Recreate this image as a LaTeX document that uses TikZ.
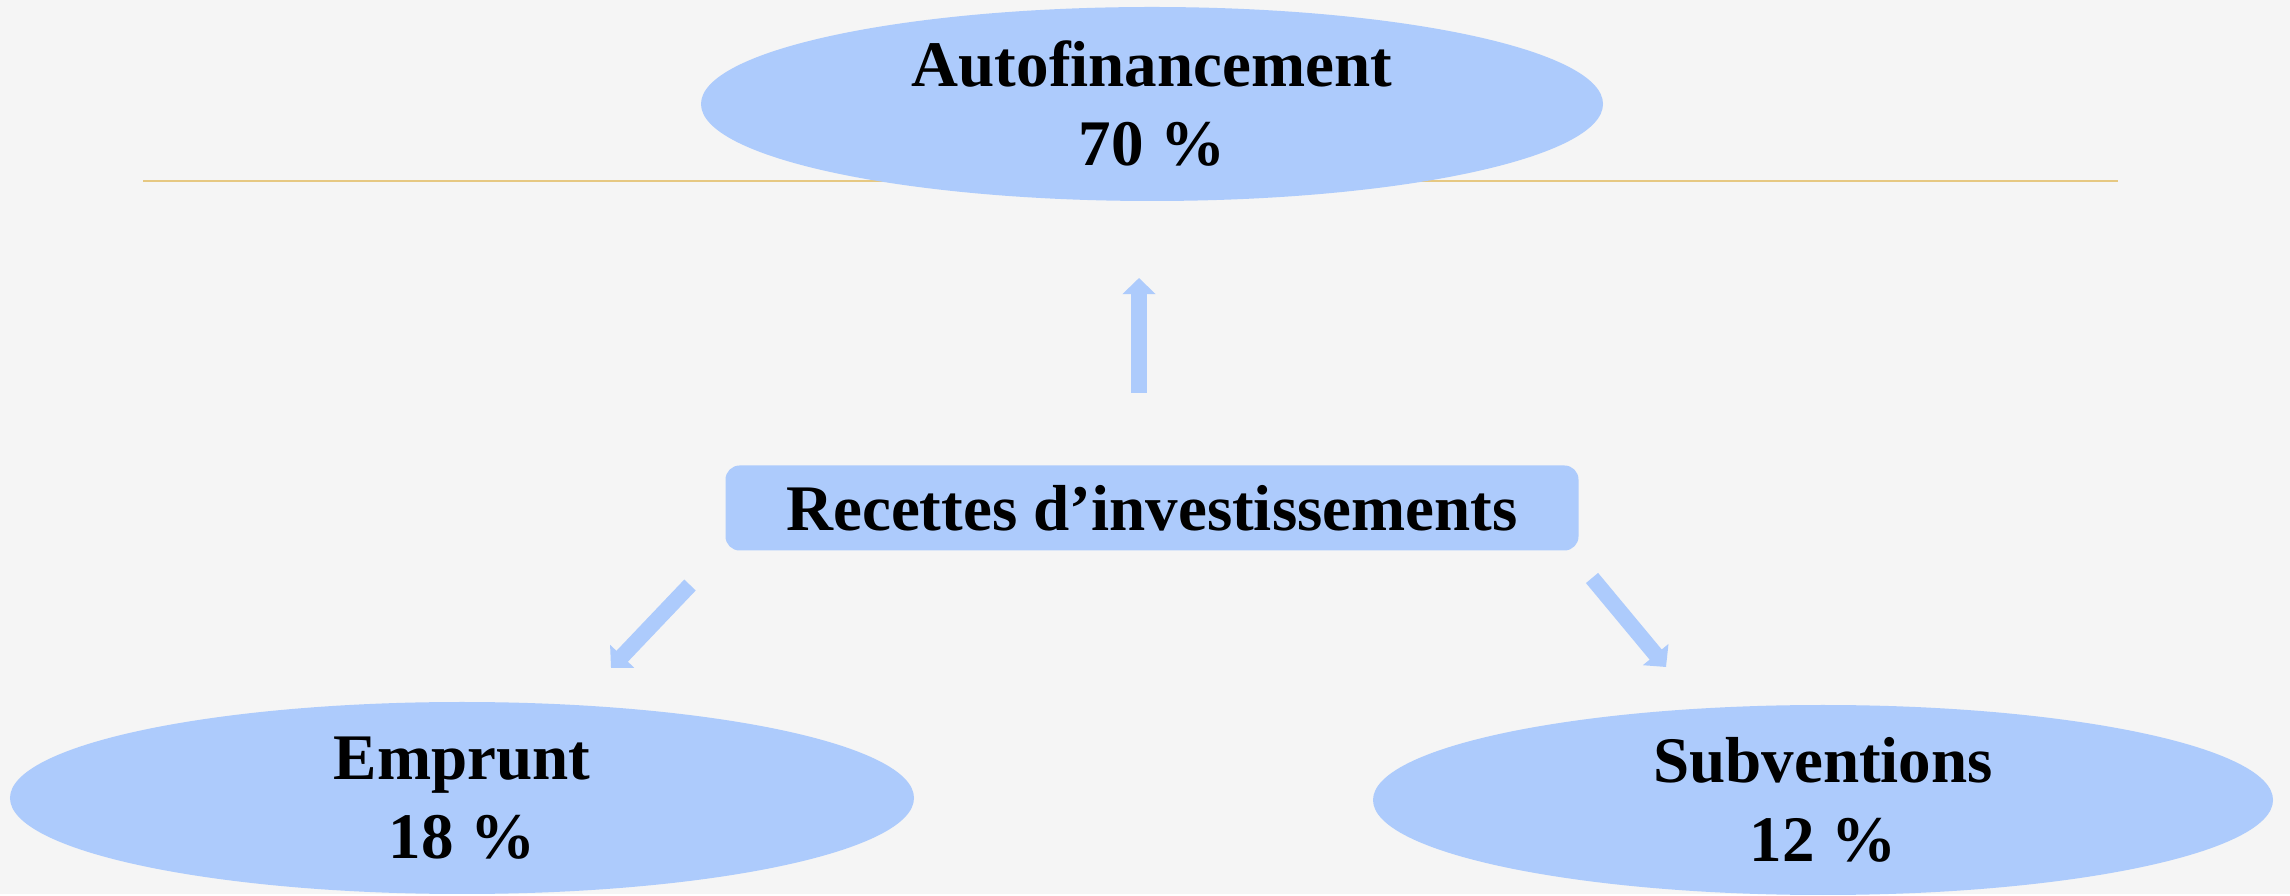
\documentclass[tikz,border=0pt]{standalone}
\usepackage{fontspec}
\setmainfont{Liberation Serif}
\usepackage{tikz}
\usetikzlibrary{shapes.geometric,arrows.meta}
\definecolor{fond}{HTML}{F5F5F5}
\definecolor{bleu}{HTML}{ADCBFC}
\definecolor{or}{HTML}{E6C882}

\begin{document}
\begin{tikzpicture}[every node/.style={font=\bfseries\fontsize{18.5}{22.5}\selectfont},
    bulle/.style={ellipse, fill=bleu, align=center, inner sep=0pt},
    fleche/.style={draw=bleu, line width=4.5pt,
      -{Triangle[width=9.2pt,length=4.6pt]}}]
      % fond
      \fill[fond] (0,0) rectangle (22.9,8.94);
      % trait
      \draw[or, line width=0.7pt] (1.43,7.13) -- (21.18,7.13);
      % Autofinancement
      \node[bulle, minimum width=9.02cm, minimum height=1.94cm] (auto) at (11.52,7.90)
        {Autofinancement\\70 \%};
      % Recettes
      \node[fill=bleu, rounded corners=4pt, minimum width=8.53cm, minimum height=0.85cm]
        (rec) at (11.52,3.86) {Recettes d’investissements};
      % Emprunt
      \node[bulle, minimum width=9.04cm, minimum height=1.92cm] (emp) at (4.62,0.96)
        {Emprunt\\18 \%};
      % Subventions
      \node[bulle, minimum width=9.0cm, minimum height=1.9cm] (sub) at (18.23,0.94)
        {Subventions\\12 \%};
      % fleches
      \coordinate (h1) at (11.39,5.01);
      \coordinate (h2) at (11.39,6.16);
      \coordinate (g1) at (6.90,3.09);
      \coordinate (g2) at (6.11,2.26);
      \coordinate (d1) at (15.92,3.16);
      \coordinate (d2) at (16.66,2.27);
      \draw[fleche] (h1) -- (h2);
      \draw[fleche] (g1) -- (g2);
      \draw[fleche] (d1) -- (d2);
    \end{tikzpicture}
\end{document}
